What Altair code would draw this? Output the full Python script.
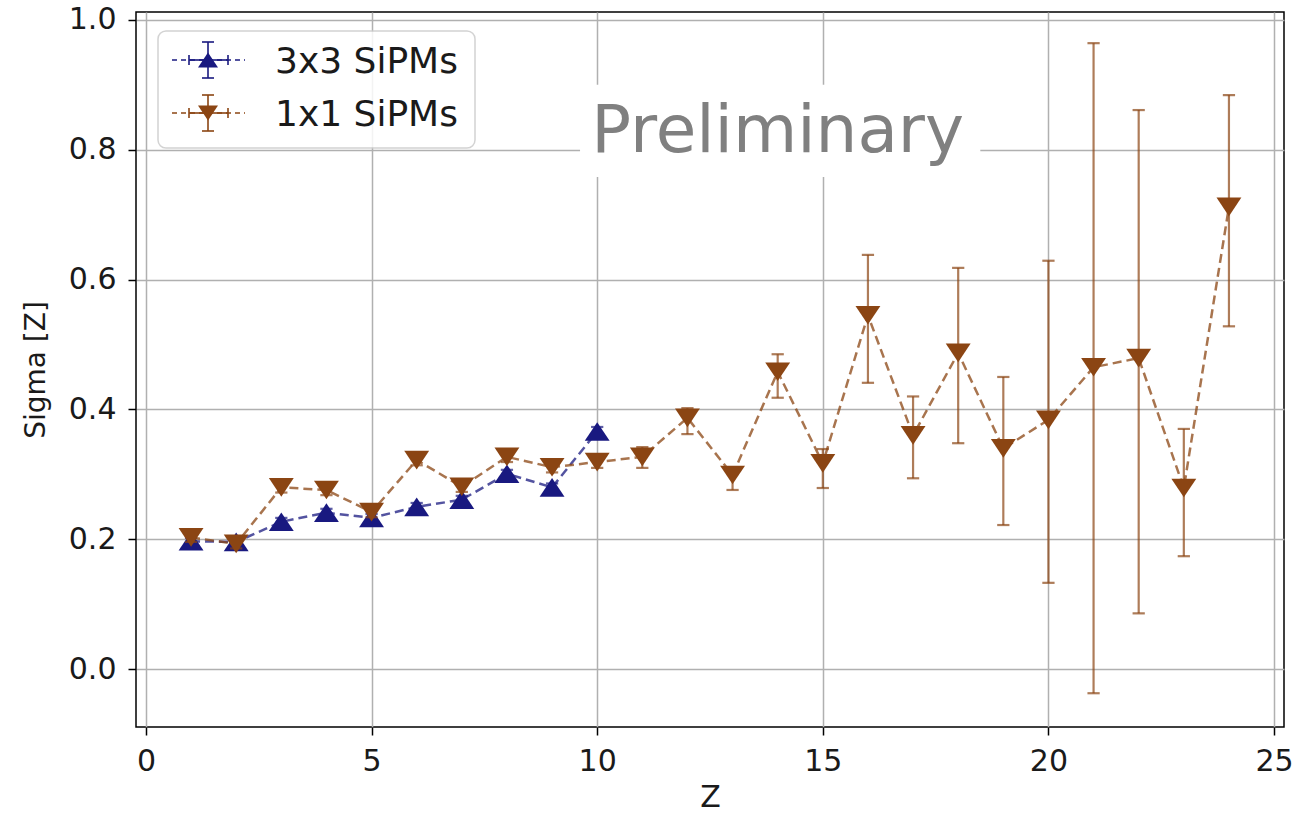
import altair as alt
import pandas as pd

# ---------------- data ----------------
z_3x3 = [1, 2, 3, 4, 5, 6, 7, 8, 9, 10]
sigma_3x3 = [0.197, 0.196, 0.227, 0.241, 0.233, 0.250, 0.261, 0.301, 0.280, 0.366]
lo_3x3 = [0.192, 0.191, 0.221, 0.235, 0.227, 0.244, 0.255, 0.295, 0.274, 0.359]
hi_3x3 = [0.202, 0.201, 0.233, 0.247, 0.239, 0.256, 0.267, 0.307, 0.286, 0.373]

z_1x1 = list(range(1, 25))
sigma_1x1 = [0.203, 0.193, 0.280, 0.276, 0.242, 0.322, 0.281, 0.327, 0.311, 0.319,
             0.327, 0.387, 0.299, 0.458, 0.317, 0.545, 0.360, 0.487, 0.340, 0.384,
             0.465, 0.479, 0.279, 0.712]
lo_1x1 = [0.196, 0.186, 0.272, 0.268, 0.234, 0.314, 0.273, 0.319, 0.303, 0.310,
          0.310, 0.362, 0.276, 0.418, 0.279, 0.441, 0.294, 0.348, 0.222, 0.133,
          -0.037, 0.086, 0.174, 0.528]
hi_1x1 = [0.210, 0.200, 0.288, 0.284, 0.250, 0.330, 0.289, 0.335, 0.319, 0.328,
          0.342, 0.402, 0.310, 0.485, 0.339, 0.638, 0.420, 0.618, 0.450, 0.629,
          0.964, 0.861, 0.370, 0.884]

series_names = ["3x3 SiPMs", "1x1 SiPMs"]
x_ticks = [0, 5, 10, 15, 20, 25]
y_ticks = [0.0, 0.2, 0.4, 0.6, 0.8, 1.0]
watermark = "Preliminary"

# ---------------- styling ----------------
BLUE = "#191980"
BROWN = "#8B4513"
UP = "M0,-0.75L1,0.75L-1,0.75Z"
DOWN = "M-1,-0.75L1,-0.75L0,0.75Z"
FONT = "DejaVu Sans"

df3 = pd.DataFrame({"Z": z_3x3, "sigma": sigma_3x3, "lo": lo_3x3, "hi": hi_3x3})
df1 = pd.DataFrame({"Z": z_1x1, "sigma": sigma_1x1, "lo": lo_1x1, "hi": hi_1x1})

xscale = alt.Scale(domain=[-0.22, 25.22], nice=False, zero=False)
yscale = alt.Scale(domain=[-0.089, 1.012], nice=False, zero=False)

X = alt.X("Z:Q", scale=xscale,
          axis=alt.Axis(title="Z", values=x_ticks, format="d"))
Y = alt.Y("sigma:Q", scale=yscale,
          axis=alt.Axis(title="Sigma [Z]", values=y_ticks, format=".1f"))


def series(df, color, shape):
    base = alt.Chart(df)
    line = base.mark_line(color=color, strokeWidth=2.5, strokeDash=[9, 5],
                          opacity=0.75).encode(x=X, y=Y)
    bars = base.mark_rule(color=color, strokeWidth=2.2, opacity=0.7).encode(
        x="Z:Q", y="lo:Q", y2="hi:Q")
    cap_lo = base.mark_point(shape="stroke", size=150, color=color, strokeWidth=2.2,
                             opacity=0.7).encode(x="Z:Q", y="lo:Q")
    cap_hi = base.mark_point(shape="stroke", size=150, color=color, strokeWidth=2.2,
                             opacity=0.7).encode(x="Z:Q", y="hi:Q")
    pts = base.mark_point(shape=shape, size=620, filled=True, fill=color, color=color,
                          opacity=1, strokeWidth=1).encode(x="Z:Q", y="sigma:Q")
    return [line, bars, cap_lo, cap_hi, pts]


# watermark with white box
wm = pd.DataFrame({"x": [9.62], "x2": [18.49], "y": [0.758], "y2": [0.900],
                   "tx": [14.0], "ty": [0.797], "label": [watermark]})
wm_box = alt.Chart(wm).mark_rect(fill="white", stroke=None).encode(
    x="x:Q", x2="x2:Q", y="y:Q", y2="y2:Q")
wm_text = alt.Chart(wm).mark_text(fontSize=66, font=FONT, color="#808080",
                                  align="center", baseline="alphabetic").encode(
    x="tx:Q", y="ty:Q", text="label:N")

# manual legend (pixel layout within the plot area)
one = pd.DataFrame({"a": [0]})
legend_layers = [
    alt.Chart(one).mark_rect(fill="white", stroke="#cccccc", strokeWidth=1.5,
                             cornerRadius=8, opacity=0.85).encode(
        x=alt.value(22), x2=alt.value(339), y=alt.value(19), y2=alt.value(136))
]
for i, (name, color, shape) in enumerate(zip(series_names, [BLUE, BROWN], [UP, DOWN])):
    yp = 48 + 53 * i
    cx = 72
    legend_layers += [
        alt.Chart(one).mark_rule(color=color, strokeWidth=2.2, strokeDash=[5, 4],
                                 opacity=0.75).encode(
            x=alt.value(36), x2=alt.value(109), y=alt.value(yp)),
        alt.Chart(one).mark_rule(color=color, strokeWidth=2, opacity=0.8).encode(
            x=alt.value(53), x2=alt.value(92), y=alt.value(yp)),
        alt.Chart(one).mark_rule(color=color, strokeWidth=2, opacity=0.8).encode(
            x=alt.value(53), y=alt.value(yp - 5), y2=alt.value(yp + 5)),
        alt.Chart(one).mark_rule(color=color, strokeWidth=2, opacity=0.8).encode(
            x=alt.value(92), y=alt.value(yp - 5), y2=alt.value(yp + 5)),
        alt.Chart(one).mark_rule(color=color, strokeWidth=2, opacity=0.8).encode(
            x=alt.value(cx), y=alt.value(yp - 18), y2=alt.value(yp + 18)),
        alt.Chart(one).mark_rule(color=color, strokeWidth=2, opacity=0.8).encode(
            x=alt.value(cx - 6), x2=alt.value(cx + 6), y=alt.value(yp - 18)),
        alt.Chart(one).mark_rule(color=color, strokeWidth=2, opacity=0.8).encode(
            x=alt.value(cx - 6), x2=alt.value(cx + 6), y=alt.value(yp + 18)),
        alt.Chart(one).mark_point(shape=shape, size=400, filled=True, fill=color,
                                  color=color, opacity=1).encode(
            x=alt.value(cx), y=alt.value(yp)),
        alt.Chart(one).mark_text(text=name, fontSize=36, font=FONT, color="#1a1a1a",
                                 align="left", baseline="middle").encode(
            x=alt.value(139), y=alt.value(yp + 2)),
    ]

layers = [wm_box, wm_text] + series(df3, BLUE, UP) + series(df1, BROWN, DOWN) + legend_layers

chart = alt.layer(*layers).properties(
    width=1148, height=715,
    autosize=alt.AutoSizeParams(type="none"),
    padding={"left": 136, "top": 12, "right": 10, "bottom": 94},
).configure_view(
    stroke="black", strokeWidth=1.5
).configure_axis(
    grid=True, gridColor="#b0b0b0", gridWidth=1.5, gridOpacity=1,
    domain=False, ticks=True, tickColor="black", tickSize=8, tickWidth=1.5,
    labelFont=FONT, labelFontSize=30, labelColor="#1a1a1a",
    titleFont=FONT, titleFontSize=30, titleFontWeight="normal", titleColor="#1a1a1a",
).configure_axisX(
    labelPadding=11, titlePadding=6
).configure_axisY(
    labelPadding=12, titlePadding=18, titleFontSize=28
)

chart.save("out.html", embed_options={"renderer": "svg", "actions": False})
